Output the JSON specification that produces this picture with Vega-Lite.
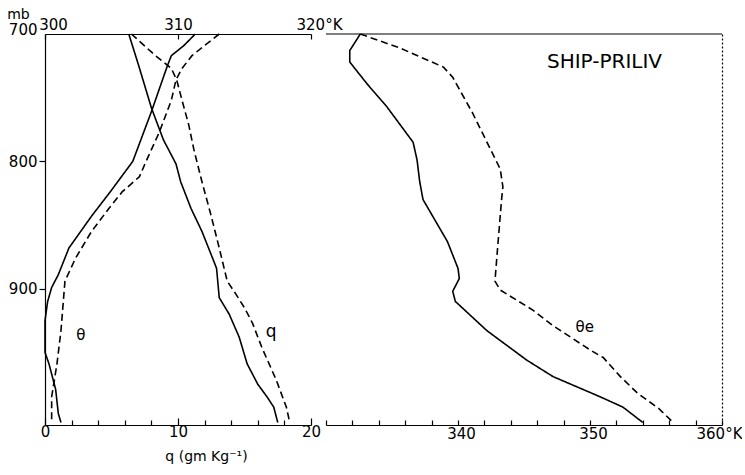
{
  "$schema": "https://vega.github.io/schema/vega-lite/v6.json",
  "background": "white",
  "padding": {"left": 6, "top": 7, "right": 0, "bottom": 14},
  "spacing": 15,
  "bounds": "flush",
  "datasets": {
    "theta": [
      {"s": "solid", "p": 700, "v": 311.3}, {"s": "solid", "p": 709, "v": 310.45}, {"s": "solid", "p": 717, "v": 309.5},
      {"s": "solid", "p": 725, "v": 309.2}, {"s": "solid", "p": 761, "v": 308.0}, {"s": "solid", "p": 800, "v": 306.6},
      {"s": "solid", "p": 824, "v": 304.9}, {"s": "solid", "p": 843, "v": 303.5}, {"s": "solid", "p": 868, "v": 301.8},
      {"s": "solid", "p": 889, "v": 301.0}, {"s": "solid", "p": 899, "v": 300.5}, {"s": "solid", "p": 910, "v": 300.2},
      {"s": "solid", "p": 925, "v": 300.0}, {"s": "solid", "p": 950, "v": 300.0}, {"s": "solid", "p": 959, "v": 300.3},
      {"s": "solid", "p": 979, "v": 300.8}, {"s": "solid", "p": 998, "v": 301.0}, {"s": "solid", "p": 1005, "v": 301.2},
      {"s": "dashed", "p": 700, "v": 313.1}, {"s": "dashed", "p": 709, "v": 312.0}, {"s": "dashed", "p": 717, "v": 311.05},
      {"s": "dashed", "p": 727, "v": 310.3}, {"s": "dashed", "p": 736, "v": 309.85}, {"s": "dashed", "p": 752, "v": 309.5},
      {"s": "dashed", "p": 777, "v": 308.6}, {"s": "dashed", "p": 800, "v": 307.6}, {"s": "dashed", "p": 812, "v": 307.1},
      {"s": "dashed", "p": 824, "v": 305.8}, {"s": "dashed", "p": 837, "v": 304.8}, {"s": "dashed", "p": 855, "v": 303.5},
      {"s": "dashed", "p": 876, "v": 302.3}, {"s": "dashed", "p": 894, "v": 301.5}, {"s": "dashed", "p": 907, "v": 301.4},
      {"s": "dashed", "p": 933, "v": 301.2}, {"s": "dashed", "p": 959, "v": 300.9}, {"s": "dashed", "p": 985, "v": 300.5},
      {"s": "dashed", "p": 1005, "v": 300.5}
    ],
    "q": [
      {"s": "solid", "p": 700, "v": 6.3}, {"s": "solid", "p": 725, "v": 7.05}, {"s": "solid", "p": 758, "v": 8.0},
      {"s": "solid", "p": 783, "v": 8.9}, {"s": "solid", "p": 802, "v": 9.85}, {"s": "solid", "p": 816, "v": 10.2},
      {"s": "solid", "p": 837, "v": 10.98}, {"s": "solid", "p": 855, "v": 11.8}, {"s": "solid", "p": 876, "v": 12.6},
      {"s": "solid", "p": 884, "v": 12.9}, {"s": "solid", "p": 907, "v": 13.1}, {"s": "solid", "p": 920, "v": 13.85},
      {"s": "solid", "p": 938, "v": 14.6}, {"s": "solid", "p": 959, "v": 15.2}, {"s": "solid", "p": 975, "v": 16.0},
      {"s": "solid", "p": 985, "v": 16.7}, {"s": "solid", "p": 993, "v": 17.2}, {"s": "solid", "p": 1005, "v": 17.5},
      {"s": "dashed", "p": 700, "v": 6.5}, {"s": "dashed", "p": 717, "v": 8.3}, {"s": "dashed", "p": 727, "v": 9.5},
      {"s": "dashed", "p": 736, "v": 9.9}, {"s": "dashed", "p": 752, "v": 10.3}, {"s": "dashed", "p": 771, "v": 10.8},
      {"s": "dashed", "p": 791, "v": 11.2}, {"s": "dashed", "p": 816, "v": 11.8}, {"s": "dashed", "p": 843, "v": 12.5},
      {"s": "dashed", "p": 868, "v": 13.1}, {"s": "dashed", "p": 894, "v": 13.7}, {"s": "dashed", "p": 905, "v": 14.4},
      {"s": "dashed", "p": 915, "v": 15.0}, {"s": "dashed", "p": 927, "v": 15.6}, {"s": "dashed", "p": 946, "v": 16.3},
      {"s": "dashed", "p": 972, "v": 17.4}, {"s": "dashed", "p": 993, "v": 18.15}, {"s": "dashed", "p": 1005, "v": 18.4}
    ],
    "thetae": [
      {"s": "solid", "p": 700, "v": 332.6}, {"s": "solid", "p": 713, "v": 331.8}, {"s": "solid", "p": 722, "v": 331.8},
      {"s": "solid", "p": 739, "v": 333.1}, {"s": "solid", "p": 757, "v": 334.6}, {"s": "solid", "p": 785, "v": 336.6},
      {"s": "solid", "p": 799, "v": 336.9}, {"s": "solid", "p": 816, "v": 337.1}, {"s": "solid", "p": 830, "v": 337.35},
      {"s": "solid", "p": 863, "v": 339.2}, {"s": "solid", "p": 884, "v": 340.0}, {"s": "solid", "p": 892, "v": 340.1},
      {"s": "solid", "p": 902, "v": 339.6}, {"s": "solid", "p": 910, "v": 339.8}, {"s": "solid", "p": 933, "v": 342.2},
      {"s": "solid", "p": 956, "v": 345.2}, {"s": "solid", "p": 969, "v": 347.2}, {"s": "solid", "p": 985, "v": 350.8},
      {"s": "solid", "p": 993, "v": 352.5}, {"s": "solid", "p": 1005, "v": 354.0},
      {"s": "dashed", "p": 700, "v": 332.6}, {"s": "dashed", "p": 711, "v": 335.6}, {"s": "dashed", "p": 726, "v": 338.9},
      {"s": "dashed", "p": 734, "v": 339.6}, {"s": "dashed", "p": 762, "v": 341.1}, {"s": "dashed", "p": 806, "v": 343.2},
      {"s": "dashed", "p": 820, "v": 343.4}, {"s": "dashed", "p": 830, "v": 343.3}, {"s": "dashed", "p": 868, "v": 343.0},
      {"s": "dashed", "p": 894, "v": 342.8}, {"s": "dashed", "p": 901, "v": 343.2}, {"s": "dashed", "p": 917, "v": 345.7},
      {"s": "dashed", "p": 929, "v": 347.2}, {"s": "dashed", "p": 948, "v": 350.0}, {"s": "dashed", "p": 954, "v": 351.0},
      {"s": "dashed", "p": 969, "v": 352.3}, {"s": "dashed", "p": 982, "v": 353.6}, {"s": "dashed", "p": 994, "v": 355.2},
      {"s": "dashed", "p": 1005, "v": 356.3}
    ],
    "labelsLeft": [
      {"txt": "θ", "v": 2.7, "p": 936, "size": 15},
      {"txt": "q", "v": 17.0, "p": 934, "size": 17}
    ],
    "labelsRight": [
      {"txt": "θe", "v": 349.6, "p": 930, "size": 15},
      {"txt": "SHIP-PRILIV", "v": 351.1, "p": 722, "size": 20}
    ]
  },
  "hconcat": [
    {
      "width": 266,
      "height": 391,
      "layer": [
        {
          "data": {"name": "q"},
          "mark": {"type": "line", "color": "black", "strokeWidth": 1.6},
          "encoding": {
            "x": {"field": "v", "type": "quantitative", "scale": {"domain": [0, 20], "nice": false, "zero": false},
              "axis": {"orient": "bottom", "values": [0, 2, 4, 6, 8, 10, 12, 14, 16, 18, 20],
                "labelExpr": "datum.value % 10 == 0 ? datum.label : ''", "labelOverlap": false,
                "tickSize": {"condition": {"test": "datum.value % 10 == 0", "value": -7}, "value": -5},
                "labelPadding": 6, "title": "q (gm Kg⁻¹)", "titleFontSize": 14, "titleFontWeight": "normal",
                "titleX": 161, "titlePadding": 8}},
            "y": {"field": "p", "type": "quantitative", "scale": {"domain": [700, 1007], "reverse": true, "nice": false, "zero": false},
              "axis": {"orient": "left", "values": [700, 800, 900], "tickSize": 6, "labelPadding": 2, "labelOverlap": false,
                "tickOpacity": {"condition": {"test": "datum.value == 700", "value": 0}, "value": 1},
                "labelBaseline": {"condition": {"test": "datum.value == 700", "value": "alphabetic"}, "value": "middle"},
                "title": "mb", "titleAngle": 0, "titleAlign": "center", "titleBaseline": "alphabetic",
                "titleX": -27, "titleY": -16, "titleFontSize": 14, "titleFontWeight": "normal"}},
            "strokeDash": {"field": "s", "type": "nominal", "scale": {"domain": ["solid", "dashed"], "range": [[1, 0], [7, 4]]}, "legend": null},
            "order": {"field": "p", "type": "quantitative"}
          }
        },
        {
          "data": {"name": "theta"},
          "mark": {"type": "line", "color": "black", "strokeWidth": 1.6},
          "encoding": {
            "x": {"field": "v", "type": "quantitative", "scale": {"domain": [300, 320], "nice": false, "zero": false},
              "axis": {"orient": "top", "values": [300, 310, 320], "tickSize": -5, "labelPadding": 7, "title": null, "labelOverlap": false,
                "labelExpr": "datum.value == 320 ? '320°K' : datum.label",
                "labelOffset": {"condition": {"test": "datum.value != 310", "value": 8}, "value": 0}}},
            "y": {"field": "p", "type": "quantitative"},
            "strokeDash": {"field": "s", "type": "nominal", "scale": {"domain": ["solid", "dashed"], "range": [[1, 0], [7, 4]]}, "legend": null},
            "order": {"field": "p", "type": "quantitative"}
          }
        },
        {
          "data": {"name": "labelsLeft"},
          "mark": {"type": "text", "color": "black", "font": "DejaVu Sans"},
          "encoding": {
            "x": {"field": "v", "type": "quantitative", "scale": {"domain": [0, 20], "nice": false, "zero": false}, "axis": null},
            "y": {"field": "p", "type": "quantitative"},
            "text": {"field": "txt"},
            "size": {"field": "size", "type": "quantitative", "scale": null}
          }
        }
      ],
      "resolve": {"scale": {"x": "independent"}}
    },
    {
      "width": 396,
      "height": 391,
      "layer": [
        {
          "data": {"name": "thetae"},
          "mark": {"type": "line", "color": "black", "strokeWidth": 1.6},
          "encoding": {
            "x": {"field": "v", "type": "quantitative", "scale": {"domain": [330, 360], "nice": false, "zero": false},
              "axis": {"orient": "bottom", "values": [330, 332, 334, 336, 338, 340, 342, 344, 346, 348, 350, 352, 354, 356, 358, 360],
                "labelExpr": "(datum.value % 10 == 0 && datum.value > 335) ? (datum.value > 355 ? '360°K' : datum.label) : ''",
                "labelOverlap": false,
                "labelOffset": {"condition": {"test": "datum.value > 355", "value": -3}, "value": 3},
                "tickSize": -5, "labelPadding": 6, "title": null}},
            "y": {"field": "p", "type": "quantitative", "scale": {"domain": [700, 1007], "reverse": true, "nice": false, "zero": false},
              "axis": {"orient": "right", "ticks": false, "labels": false, "title": null, "domainDash": [2, 2]}},
            "strokeDash": {"field": "s", "type": "nominal", "scale": {"domain": ["solid", "dashed"], "range": [[1, 0], [7, 4]]}, "legend": null},
            "order": {"field": "p", "type": "quantitative"}
          }
        },
        {
          "data": {"values": [{"p": 700}]},
          "mark": {"type": "rule", "color": "black", "strokeWidth": 1.2},
          "encoding": {"y": {"field": "p", "type": "quantitative"}}
        },
        {
          "data": {"name": "labelsRight"},
          "mark": {"type": "text", "color": "black", "font": "DejaVu Sans"},
          "encoding": {
            "x": {"field": "v", "type": "quantitative", "scale": {"domain": [330, 360], "nice": false, "zero": false}, "axis": null},
            "y": {"field": "p", "type": "quantitative"},
            "text": {"field": "txt"},
            "size": {"field": "size", "type": "quantitative", "scale": null}
          }
        }
      ],
      "resolve": {"scale": {"x": "independent"}}
    }
  ],
  "config": {
    "view": {"stroke": null},
    "axis": {"labelFont": "DejaVu Sans", "labelFontSize": 15, "labelColor": "black", "domainColor": "black",
      "tickColor": "black", "grid": false, "titleFont": "DejaVu Sans", "titleColor": "black",
      "labelFlush": false, "labelOverlap": false, "labelBound": false, "domainWidth": 1.2, "tickWidth": 1.2},
    "text": {"font": "DejaVu Sans"}
  }
}
